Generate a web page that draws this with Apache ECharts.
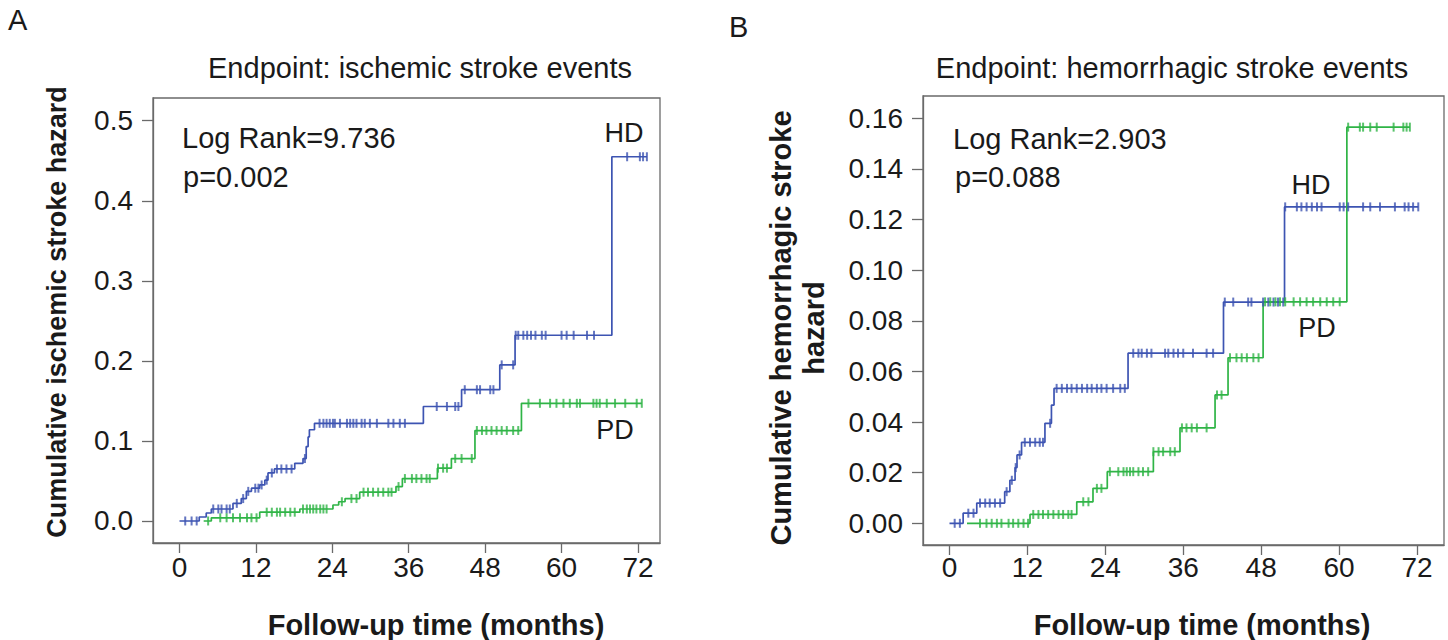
<!DOCTYPE html>
<html>
<head>
<meta charset="utf-8">
<script src="https://cdn.jsdelivr.net/npm/echarts@6/dist/echarts.min.js"></script>
<style>
html,body{margin:0;padding:0;background:#fff;}
#chart{width:1448px;height:640px;}
</style>
</head>
<body>
<div id="chart"></div>
<script>
// ---------- data ----------
const xTicks = [0, 12, 24, 36, 48, 60, 72];
const yTicksA = [0, 0.1, 0.2, 0.3, 0.4, 0.5];
const yTicksB = [0, 0.02, 0.04, 0.06, 0.08, 0.10, 0.12, 0.14, 0.16];

// Panel A: ischemic stroke, HD (event times in months, cumulative hazard after each step)
const A_HD_t = [0, 3.1, 4.2, 5.0, 8.4, 9.7, 10.5, 11.3, 12.6, 13.4, 13.9, 14.9, 18.1, 19.4, 19.9, 20.2, 20.4, 21.2, 38.3, 44.3, 50.3, 52.7, 67.9];
const A_HD_h = [0, 0.005, 0.010, 0.015, 0.022, 0.028, 0.037, 0.041, 0.045, 0.051, 0.060, 0.065, 0.072, 0.078, 0.093, 0.105, 0.114, 0.122, 0.143, 0.164, 0.195, 0.232, 0.455];
const A_HD_end = 73.4;
const A_HD_cens = [0.9, 1.9, 2.7, 5.3, 6.1, 6.6, 7.4, 7.9, 9.0, 10.0, 10.8, 11.9, 12.4, 12.9, 13.7, 14.5, 15.3, 16.0, 16.8, 17.6, 19.7, 22.0, 22.6, 23.1, 23.6, 24.1, 24.4, 25.2, 26.3, 26.8, 27.3, 27.8, 28.6, 29.1, 29.9, 31.0, 32.8, 33.6, 34.6, 35.4, 40.4, 42.0, 43.3, 43.8, 44.8, 46.7, 47.2, 48.8, 49.3, 50.6, 52.4, 52.8, 53.2, 54.0, 54.6, 55.2, 55.9, 56.9, 57.5, 60.0, 60.8, 61.9, 64.0, 65.1, 70.3, 72.3, 72.8, 73.4];

// Panel A: PD
const A_PD_t = [3.8, 5.0, 12.6, 18.9, 24.1, 25.0, 26.0, 28.3, 34.0, 35.0, 40.5, 42.7, 46.4, 53.7];
const A_PD_h = [0, 0.004, 0.011, 0.015, 0.020, 0.024, 0.028, 0.036, 0.043, 0.053, 0.066, 0.078, 0.113, 0.147];
const A_PD_end = 72.6;
const A_PD_cens = [4.5, 6.4, 7.4, 8.4, 9.5, 10.6, 11.3, 12.1, 13.7, 14.5, 15.3, 15.8, 16.6, 17.4, 18.1, 19.4, 20.0, 20.5, 21.0, 21.5, 22.1, 22.6, 23.1, 25.5, 27.0, 27.8, 28.9, 29.6, 30.4, 31.2, 32.0, 32.8, 33.3, 34.4, 35.4, 36.5, 37.2, 38.0, 38.8, 39.3, 40.6, 41.4, 42.0, 43.3, 44.3, 45.9, 46.7, 47.5, 48.2, 49.0, 49.8, 50.6, 51.4, 52.4, 53.2, 54.8, 56.6, 58.2, 59.2, 60.3, 61.3, 62.4, 62.9, 65.0, 65.5, 66.0, 67.1, 68.4, 70.0, 71.8, 72.6];

// Panel B: hemorrhagic stroke, HD
const B_HD_t = [0, 2.1, 4.2, 8.5, 9.3, 10.1, 10.4, 11.1, 14.7, 15.7, 16.1, 27.5, 42.2, 51.6];
const B_HD_h = [0, 0.004, 0.008, 0.0125, 0.017, 0.022, 0.027, 0.032, 0.0395, 0.0467, 0.0533, 0.0672, 0.0874, 0.125];
const B_HD_end = 72.2;
const B_HD_cens = [0.8, 1.6, 2.9, 3.7, 4.7, 5.5, 6.2, 7.0, 7.8, 8.8, 9.6, 10.2, 10.8, 11.6, 12.4, 13.2, 13.9, 14.4, 15.5, 16.5, 17.3, 18.1, 18.8, 19.6, 20.4, 21.2, 21.9, 22.7, 23.4, 24.2, 25.2, 26.3, 27.0, 28.3, 29.1, 29.6, 30.4, 31.1, 33.2, 33.7, 34.5, 35.2, 36.0, 37.5, 39.6, 40.6, 42.4, 43.7, 46.0, 46.5, 48.3, 49.1, 49.9, 50.6, 51.4, 51.7, 53.5, 54.2, 55.0, 55.8, 56.6, 57.3, 60.1, 60.7, 61.4, 63.7, 64.8, 66.3, 68.6, 70.1, 70.7, 71.4, 72.2];

// Panel B: PD
const B_PD_t = [2.7, 12.4, 19.6, 22.1, 24.3, 31.4, 35.5, 40.9, 42.9, 48.3, 61.2];
const B_PD_h = [0, 0.0035, 0.0085, 0.0138, 0.0204, 0.0283, 0.0377, 0.0507, 0.0654, 0.0875, 0.1565];
const B_PD_end = 70.9;
const B_PD_cens = [4.7, 5.7, 6.5, 7.3, 8.0, 9.1, 9.8, 10.6, 11.4, 12.1, 12.9, 13.7, 14.4, 15.2, 16.0, 16.8, 17.5, 18.3, 18.8, 20.6, 21.4, 22.7, 23.4, 24.7, 26.0, 26.8, 27.3, 27.8, 28.3, 29.1, 29.8, 30.6, 31.4, 32.2, 32.9, 34.0, 34.7, 35.8, 36.5, 37.3, 38.1, 39.6, 41.2, 41.9, 43.2, 44.2, 45.0, 45.8, 46.8, 47.6, 48.6, 49.4, 50.2, 50.9, 51.7, 53.0, 54.0, 55.0, 56.0, 57.1, 58.1, 59.1, 60.1, 61.4, 63.2, 63.7, 64.8, 65.8, 68.4, 69.9, 70.4, 70.9];

// ---------- helpers ----------
function stepData(t, h, end) {
  const d = t.map((v, i) => [v, h[i]]);
  d.push([end, h[h.length - 1]]);
  return d;
}
function hazardAt(t, h, x) {
  let v = h[0];
  for (let i = 0; i < t.length; i++) { if (t[i] <= x) v = h[i]; }
  return v;
}
function censData(t, h, c) {
  return c.map(x => [x, hazardAt(t, h, x)]);
}

const BLUE = '#3d54b2';
const GREEN = '#2fb446';
const AXC = '#6a6a6a';
const TXT = '#1a1a1a';
const FF = '"Liberation Sans", Arial, Helvetica, sans-serif';

function xAxisCfg(gi, min, max, margin) {
  return {
    gridIndex: gi, type: 'value', min: min, max: max, position: 'bottom',
    axisLine: { show: true, onZero: false, lineStyle: { color: AXC, width: 1.3 } },
    axisTick: { show: true, length: 10, customValues: xTicks, lineStyle: { color: AXC, width: 1.3 } },
    axisLabel: { customValues: xTicks, margin: margin, fontSize: 28, fontFamily: FF, color: TXT },
    splitLine: { show: false }
  };
}
function yAxisCfg(gi, min, max, ticks, dec) {
  return {
    gridIndex: gi, type: 'value', min: min, max: max, position: 'left',
    axisLine: { show: true, onZero: false, lineStyle: { color: AXC, width: 1.3 } },
    axisTick: { show: true, length: 11, customValues: ticks, lineStyle: { color: AXC, width: 1.3 } },
    axisLabel: { customValues: ticks, margin: 20, fontSize: 28, fontFamily: FF, color: TXT,
      formatter: v => Number(v).toFixed(dec) },
    splitLine: { show: false }
  };
}
function lineSeries(xi, data, color) {
  return { type: 'line', xAxisIndex: xi, yAxisIndex: xi, data: data, step: 'end',
    showSymbol: false, symbol: 'none', lineStyle: { color: color, width: 1.7 }, silent: true, z: 2 };
}
function censSeries(xi, data, color) {
  return { type: 'scatter', xAxisIndex: xi, yAxisIndex: xi, data: data, symbol: 'rect',
    symbolSize: [2, 9], itemStyle: { color: color }, silent: true, z: 3 };
}
function txt(x, y, s, size, opts) {
  opts = opts || {};
  return { type: 'text', x: x, y: y, rotation: opts.rot || 0, silent: true,
    style: { text: s, fill: TXT, font: (opts.bold ? 'bold ' : '') + size + 'px ' + FF,
      align: opts.align || 'left', verticalAlign: 'middle', lineHeight: opts.lh || size } };
}

const chart = echarts.init(document.getElementById('chart'), null, { renderer: 'svg' });
chart.setOption({
  animation: false,
  backgroundColor: '#fff',
  grid: [
    { left: 153, top: 98, width: 507, height: 445, show: true, borderColor: AXC, borderWidth: 1.3, containLabel: false },
    { left: 923, top: 96, width: 521, height: 449, show: true, borderColor: AXC, borderWidth: 1.3, containLabel: false }
  ],
  xAxis: [ xAxisCfg(0, -4.16, 75.46, 10), xAxisCfg(1, -4.08, 76.16, 8) ],
  yAxis: [ yAxisCfg(0, -0.0275, 0.5284, yTicksA, 1), yAxisCfg(1, -0.00857, 0.1688, yTicksB, 2) ],
  series: [
    lineSeries(0, stepData(A_HD_t, A_HD_h, A_HD_end), BLUE),
    censSeries(0, censData(A_HD_t, A_HD_h, A_HD_cens), BLUE),
    lineSeries(0, stepData(A_PD_t, A_PD_h, A_PD_end), GREEN),
    censSeries(0, censData(A_PD_t, A_PD_h, A_PD_cens), GREEN),
    lineSeries(1, stepData(B_HD_t, B_HD_h, B_HD_end), BLUE),
    censSeries(1, censData(B_HD_t, B_HD_h, B_HD_cens), BLUE),
    lineSeries(1, stepData(B_PD_t, B_PD_h, B_PD_end), GREEN),
    censSeries(1, censData(B_PD_t, B_PD_h, B_PD_cens), GREEN)
  ],
  graphic: [
    txt(8, 20, 'A', 29),
    txt(729, 27, 'B', 29),
    txt(420, 68, 'Endpoint: ischemic stroke events', 29, { align: 'center' }),
    txt(1172, 68, 'Endpoint: hemorrhagic stroke events', 29, { align: 'center' }),
    txt(182, 138, 'Log Rank=9.736', 29),
    txt(183, 177, 'p=0.002', 29),
    txt(624, 133, 'HD', 27, { align: 'center' }),
    txt(615, 430, 'PD', 27, { align: 'center' }),
    txt(953, 139, 'Log Rank=2.903', 29),
    txt(955, 177, 'p=0.088', 29),
    txt(1311, 185, 'HD', 27, { align: 'center' }),
    txt(1317, 328, 'PD', 27, { align: 'center' }),
    txt(436, 625, 'Follow-up time (months)', 29, { align: 'center', bold: true }),
    txt(1202, 625, 'Follow-up time (months)', 29, { align: 'center', bold: true }),
    txt(57, 312, 'Cumulative ischemic stroke hazard', 27, { align: 'center', bold: true, rot: Math.PI / 2 }),
    txt(797, 328, 'Cumulative hemorrhagic stroke\nhazard', 29, { align: 'center', bold: true, rot: Math.PI / 2, lh: 33 })
  ]
});
</script>
</body>
</html>
